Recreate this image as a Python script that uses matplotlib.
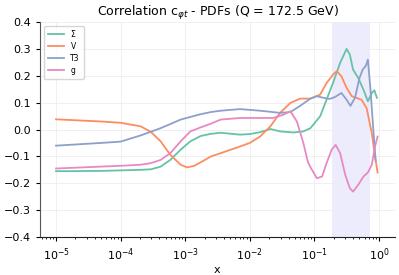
import numpy as np
import matplotlib.pyplot as plt
from matplotlib import ticker

# values (log10 x, correlation)
lx_sigma = [-5, -4.31, -4, -3.69, -3.53, -3.38, -3.23, -3.07, -2.92, -2.76, -2.6, -2.45,
            -2.15, -2.0, -1.84, -1.68, -1.53, -1.32, -1.17, -1.06, -0.91, -0.81, -0.70,
            -0.6, -0.5, -0.45, -0.4, -0.32, -0.24, -0.17, -0.11, -0.07, -0.03]
c_sigma = [-0.155, -0.154, -0.152, -0.150, -0.148, -0.138, -0.113, -0.075, -0.044, -0.024,
           -0.016, -0.012, -0.019, -0.017, -0.010, 0.002, -0.007, -0.011, -0.007, 0.005,
           0.049, 0.111, 0.180, 0.248, 0.300, 0.279, 0.223, 0.192, 0.149, 0.105, 0.136,
           0.146, 0.118]

lx_v = [-5, -4.31, -4, -3.69, -3.53, -3.38, -3.23, -3.07, -2.97, -2.86, -2.76, -2.6, -2.45,
        -2.15, -2.0, -1.84, -1.68, -1.53, -1.37, -1.22, -1.06, -0.91, -0.81, -0.70, -0.65,
        -0.58, -0.5, -0.42, -0.35, -0.27, -0.19, -0.11, -0.06, -0.02]
c_v = [0.038, 0.030, 0.025, 0.012, -0.009, -0.044, -0.094, -0.131, -0.141, -0.135, -0.122,
       -0.100, -0.088, -0.063, -0.050, -0.026, 0.012, 0.062, 0.099, 0.115, 0.115, 0.130,
       0.173, 0.207, 0.217, 0.198, 0.155, 0.124, 0.118, 0.111, 0.080, -0.013, -0.100, -0.160]

lx_t3 = [-5, -4.31, -4, -3.69, -3.38, -3.07, -2.76, -2.6, -2.45, -2.15, -1.84, -1.53, -1.37,
         -1.22, -1.06, -0.96, -0.86, -0.76, -0.68, -0.58, -0.5, -0.44, -0.37, -0.3, -0.25,
         -0.2, -0.17, -0.13, -0.09, -0.05]
c_t3 = [-0.060, -0.050, -0.045, -0.022, 0.005, 0.037, 0.057, 0.065, 0.070, 0.076, 0.070,
        0.062, 0.065, 0.088, 0.115, 0.124, 0.118, 0.114, 0.121, 0.136, 0.111, 0.088, 0.118,
        0.192, 0.223, 0.238, 0.260, 0.149, 0.012, -0.115]

lx_g = [-5, -4.31, -4, -3.69, -3.53, -3.38, -3.23, -3.07, -2.92, -2.76, -2.6, -2.45, -2.15,
        -1.84, -1.64, -1.48, -1.37, -1.27, -1.17, -1.1, -1.06, -0.96, -0.88, -0.81, -0.73,
        -0.67, -0.6, -0.52, -0.45, -0.4, -0.32, -0.24, -0.17, -0.11, -0.06, -0.02]
c_g = [-0.145, -0.138, -0.135, -0.131, -0.125, -0.113, -0.088, -0.044, -0.007, 0.008, 0.022,
       0.037, 0.043, 0.043, 0.043, 0.055, 0.068, 0.030, -0.050, -0.120, -0.140, -0.181,
       -0.175, -0.125, -0.075, -0.057, -0.088, -0.169, -0.218, -0.231, -0.206, -0.175,
       -0.160, -0.131, -0.063, -0.026]

series = [("Σ", lx_sigma, c_sigma, "#66c2a5"),
          ("V", lx_v, c_v, "#fc8d62"),
          ("T3", lx_t3, c_t3, "#8da0cb"),
          ("g", lx_g, c_g, "#e78ac3")]

band = (0.19, 0.73)

fig = plt.figure(figsize=(3.99, 2.75), dpi=100)
ax = fig.add_axes([0.1, 0.138, 0.89, 0.782])

ax.axvspan(band[0], band[1], color="#ececfc", zorder=0, lw=0)
for name, lx, c, col in series:
    ax.plot(10.0 ** np.array(lx), c, color=col, lw=1.3, label=name)

ax.set_xscale("log")
ax.set_xlim(10 ** -5.25, 10 ** 0.25)
ax.set_ylim(-0.4, 0.4)
ax.yaxis.set_major_locator(ticker.MultipleLocator(0.1))
ax.xaxis.set_major_locator(ticker.LogLocator(base=10, numticks=10))
ax.grid(True, color="#eeeeee", lw=0.6)
ax.set_axisbelow(True)

for s in ["top", "right"]:
    ax.spines[s].set_visible(False)
ax.spines["left"].set_color("#555555")
ax.spines["bottom"].set_color("#222222")
ax.tick_params(labelsize=8, length=3, width=0.8)
ax.tick_params(which="minor", length=1.5)

ax.set_xlabel("x", fontsize=8, labelpad=2)
ax.set_title(r"Correlation c$_{\varphi t}$ - PDFs (Q = 172.5 GeV)", fontsize=9, pad=4)
ax.legend(loc="upper left", fontsize=5.5, handlelength=2.2, frameon=True,
          borderpad=0.5, labelspacing=0.4)

fig.savefig("out.png", dpi=100)
